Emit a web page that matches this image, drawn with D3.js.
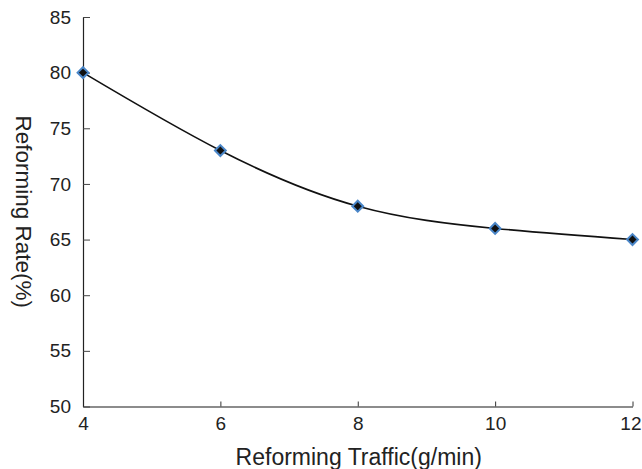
<!DOCTYPE html>
<html><head><meta charset="utf-8">
<script src="https://cdn.jsdelivr.net/npm/d3@7"></script>
<style>body{margin:0;background:#fff}svg{display:block}</style>
</head><body>
<script>
const xValues = [4, 6, 8, 10, 12];
const yValues = [80, 73, 68, 66, 65];
const xTicks = [4, 6, 8, 10, 12];
const yTicks = [50, 55, 60, 65, 70, 75, 80, 85];
const xLabel = "Reforming Traffic(g/min)";
const yLabel = "Reforming Rate(%)";

const W = 642, H = 469;
const svg = d3.select("body").append("svg").attr("width", W).attr("height", H);
const x = d3.scaleLinear().domain([4, 12]).range([83, 632.5]);
const y = d3.scaleLinear().domain([50, 85]).range([406.5, 17]);
const font = "Liberation Sans, Arial, sans-serif";

// x axis
const gx = svg.append("g").attr("transform", `translate(0,${y(50)})`)
  .call(d3.axisBottom(x).tickValues(xTicks).tickSizeInner(-5).tickSizeOuter(0).tickPadding(10.5));
gx.select(".domain").attr("stroke", "#666").attr("stroke-width", 1.4);
gx.selectAll(".tick line").attr("stroke", "#333");
gx.selectAll("text").attr("font-family", font).attr("font-size", 19).attr("fill", "#222");
gx.selectAll(".tick").filter(d => d === xTicks[xTicks.length - 1]).select("text").attr("text-anchor", "end").attr("dx", 8.5);

// y axis
const gy = svg.append("g").attr("transform", `translate(${x(4)},0)`)
  .call(d3.axisLeft(y).tickValues(yTicks).tickSizeInner(-7).tickSizeOuter(0).tickPadding(12));
gy.select(".domain").attr("stroke", "#222").attr("stroke-width", 1.2);
gy.selectAll(".tick line").attr("stroke", "#444");
gy.selectAll("text").attr("font-family", font).attr("font-size", 19).attr("fill", "#222");

svg.append("text").attr("x", (x(4) + x(12)) / 2 + 1).attr("y", 465)
  .attr("text-anchor", "middle").attr("font-family", font).attr("font-size", 23).attr("fill", "#222")
  .text(xLabel);
svg.append("text").attr("transform", `translate(16,${(y(50)+y(85))/2}) rotate(90)`)
  .attr("text-anchor", "middle").attr("font-family", font).attr("font-size", 22.5).attr("fill", "#222")
  .text(yLabel);

const pts = xValues.map((v, i) => [v, yValues[i]]);
const line = d3.line().x(d => x(d[0])).y(d => y(d[1])).curve(d3.curveNatural);
svg.append("path").attr("d", line(pts)).attr("fill", "none").attr("stroke", "#111").attr("stroke-width", 1.6);

const sym = d3.symbol().type(d3.symbolDiamond2).size(75);
svg.selectAll(".pt").data(pts).enter().append("path")
  .attr("transform", d => `translate(${x(d[0])},${y(d[1])})`)
  .attr("d", sym).attr("fill", "#111").attr("stroke", "#4a86c8").attr("stroke-width", 2);
</script>
</body></html>
